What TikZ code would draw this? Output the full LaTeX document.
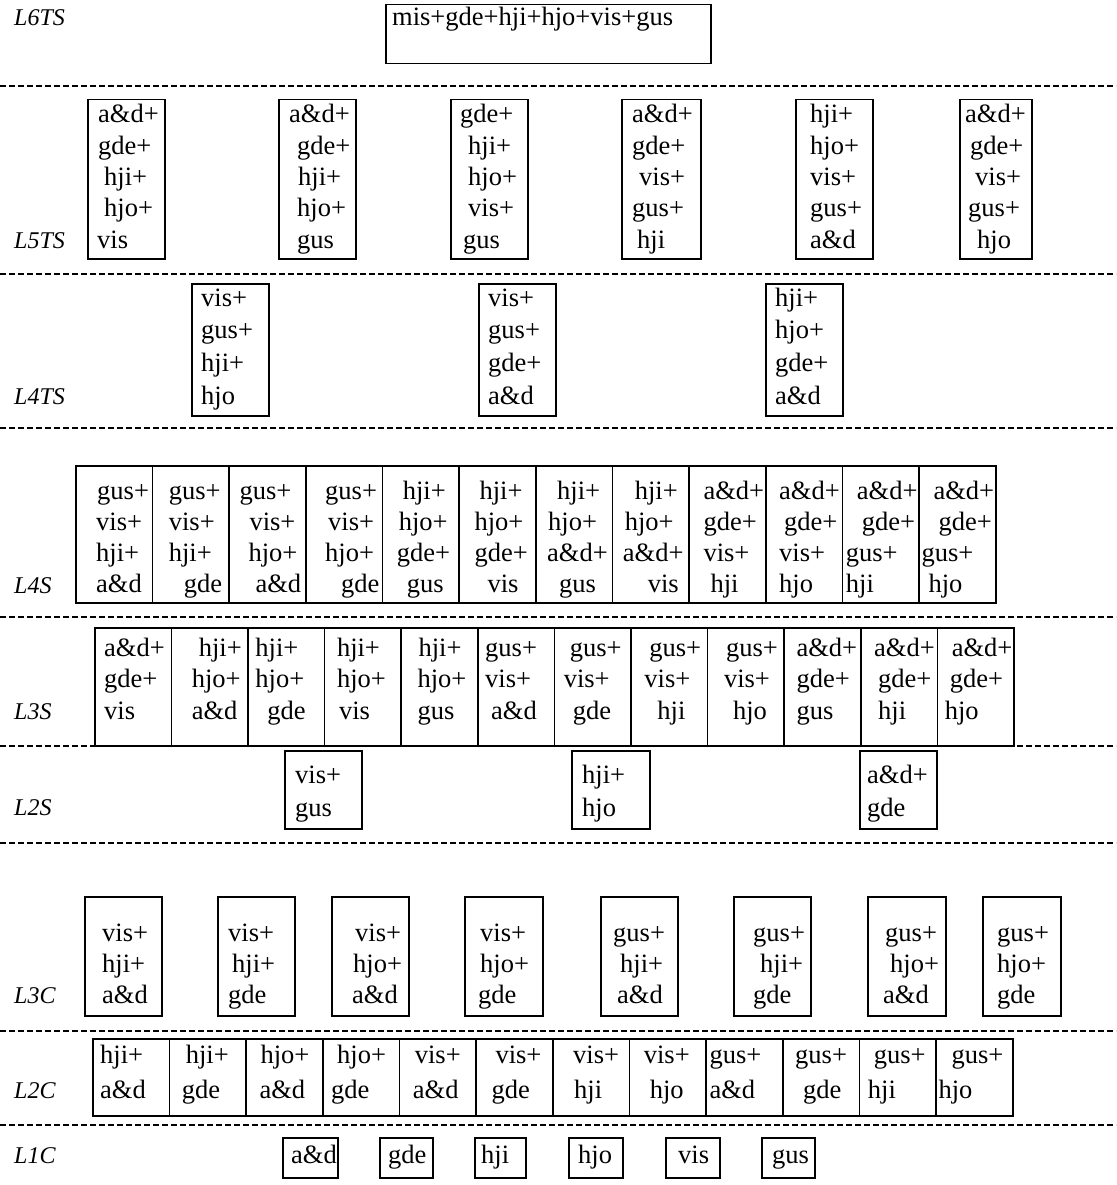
\documentclass[tikz,border=0pt]{standalone}
\usepackage{fontspec}
\setmainfont{Liberation Serif}
\tikzset{
  boxst/.style={draw, line width=1.5pt, inner sep=0pt},
  txt/.style={font=\fontsize{26.5}{30}\selectfont, anchor=west, inner sep=0pt, text height=18.5pt, text depth=6.5pt},
  lab/.style={font=\itshape\fontsize{24}{28}\selectfont, anchor=west, inner sep=0pt, text height=17pt, text depth=5pt},
  sep/.style={line width=1.3pt, dash pattern=on 6pt off 3pt}
}
% #1 name, #2 left x, #3 top y, #4 width, #5 height, #6 first line y, #7 line step, #8 offset/text list
\newcommand\tbox[8]{%
  \node[boxst, minimum width=#4pt, minimum height=#5pt, anchor=north west] (#1) at (#2,#3) {};
  \foreach \o/\t [count=\i] in {#8} {\node[txt] (#1-\i) at ({#2+\o},{#6+(\i-1)*#7}) {\t};}
}
\begin{document}
\begin{tikzpicture}[x=1pt, y=-1pt]
\useasboundingbox[fill=white] (0,0) rectangle (1116,1185);

% separators
\foreach \yy [count=\k] in {86,274,428,617,746,843,1031,1125} {
  \coordinate (sl\k) at (0,\yy); \coordinate (sr\k) at (1116,\yy);
  \draw[sep] (sl\k) -- (sr\k);
}

% labels
\node[lab] (lab6ts) at (14,20) {L6TS};
\node[lab] (lab5ts) at (14,242) {L5TS};
\node[lab] (lab4ts) at (14,398) {L4TS};
\node[lab] (lab4s) at (14,587) {L4S};
\node[lab] (lab3s) at (14,713) {L3S};
\node[lab] (lab2s) at (14,809) {L2S};
\node[lab] (lab3c) at (14,997) {L3C};
\node[lab] (lab2c) at (14,1092) {L2C};
\node[lab] (lab1c) at (14,1157) {L1C};

% L6TS
\node[boxst, minimum width=325pt, minimum height=59pt, anchor=north west] (top) at (385,4) {};
\node[txt] (top-1) at (392,20) {mis+gde+hji+hjo+vis+gus};

% L5TS
\tbox{a1}{87}{99}{77}{159}{117}{31.3}{11/a\&d+,11/gde+,17/hji+,17/hjo+,10/vis}
\tbox{a2}{278}{99}{77}{159}{117}{31.3}{11/a\&d+,19/gde+,20/hji+,19/hjo+,19/gus}
\tbox{a3}{450}{99}{77}{159}{117}{31.3}{10/gde+,18/hji+,18/hjo+,18/vis+,13/gus}
\tbox{a4}{621}{99}{79}{159}{117}{31.3}{11/a\&d+,11/gde+,18/vis+,11/gus+,16/hji}
\tbox{a5}{795}{99}{77}{159}{117}{31.3}{15/hji+,15/hjo+,15/vis+,15/gus+,15/a\&d}
\tbox{a6}{959}{99}{72}{159}{117}{31.3}{6/a\&d+,11/gde+,16/vis+,9/gus+,18/hjo}

% L4TS
\tbox{b1}{191}{283}{77}{132}{300}{32.7}{10/vis+,10/gus+,10/hji+,10/hjo}
\tbox{b2}{478}{283}{77}{132}{300}{32.7}{10/vis+,10/gus+,10/gde+,10/a\&d}
\tbox{b3}{765}{283}{77}{132}{300}{32.7}{10/hji+,10/hjo+,10/gde+,10/a\&d}

% L4S
\tbox{c1}{75}{465}{76.67}{137}{493}{31.3}{22/gus+,21/vis+,21/hji+,21/a\&d}
\tbox{c2}{151.67}{465}{76.67}{137}{493}{31.3}{17/gus+,17/vis+,17/hji+,32/gde}
\tbox{c3}{228.33}{465}{76.67}{137}{493}{31.3}{11/gus+,21/vis+,20/hjo+,27/a\&d}
\tbox{c4}{305}{465}{76.67}{137}{493}{31.3}{20/gus+,23/vis+,20/hjo+,36/gde}
\tbox{c5}{381.67}{465}{76.67}{137}{493}{31.3}{21/hji+,17/hjo+,15/gde+,25/gus}
\tbox{c6}{458.33}{465}{76.67}{137}{493}{31.3}{21/hji+,16/hjo+,16/gde+,29/vis}
\tbox{c7}{535}{465}{76.67}{137}{493}{31.3}{22/hji+,13/hjo+,12/a\&d+,24/gus}
\tbox{c8}{611.67}{465}{76.67}{137}{493}{31.3}{23/hji+,13/hjo+,11/a\&d+,36/vis}
\tbox{c9}{688.33}{465}{76.67}{137}{493}{31.3}{15/a\&d+,15/gde+,15/vis+,22/hji}
\tbox{c10}{765}{465}{76.67}{137}{493}{31.3}{14/a\&d+,19/gde+,14/vis+,14/hjo}
\tbox{c11}{841.67}{465}{76.67}{137}{493}{31.3}{15/a\&d+,20/gde+,4/gus+,4/hji}
\tbox{c12}{918.33}{465}{76.67}{137}{493}{31.3}{15/a\&d+,20/gde+,3/gus+,10/hjo}

% L3S
\tbox{d1}{94}{627}{76.6}{118}{650}{31.5}{10/a\&d+,10/gde+,10/vis}
\tbox{d2}{170.6}{627}{76.6}{118}{650}{31.5}{28/hji+,21/hjo+,21/a\&d}
\tbox{d3}{247.2}{627}{76.6}{118}{650}{31.5}{8/hji+,8/hjo+,20/gde}
\tbox{d4}{323.8}{627}{76.6}{118}{650}{31.5}{13/hji+,13/hjo+,15/vis}
\tbox{d5}{400.4}{627}{76.6}{118}{650}{31.5}{18/hji+,17/hjo+,17/gus}
\tbox{d6}{477}{627}{76.6}{118}{650}{31.5}{8/gus+,8/vis+,14/a\&d}
\tbox{d7}{553.6}{627}{76.6}{118}{650}{31.5}{16/gus+,10/vis+,19/gde}
\tbox{d8}{630.2}{627}{76.6}{118}{650}{31.5}{19/gus+,14/vis+,27/hji}
\tbox{d9}{706.8}{627}{76.6}{118}{650}{31.5}{19/gus+,17/vis+,26/hjo}
\tbox{d10}{783.4}{627}{76.6}{118}{650}{31.5}{13/a\&d+,13/gde+,13/gus}
\tbox{d11}{860}{627}{76.6}{118}{650}{31.5}{14/a\&d+,18/gde+,18/hji}
\tbox{d12}{936.6}{627}{76.6}{118}{650}{31.5}{15/a\&d+,13/gde+,8/hjo}

% L2S
\tbox{e1}{284}{750}{77}{78}{777}{33}{11/vis+,11/gus}
\tbox{e2}{571}{750}{78}{78}{777}{33}{11/hji+,11/hjo}
\tbox{e3}{859}{750}{77}{78}{777}{33}{8/a\&d+,8/gde}

% L3C
\tbox{f1}{84}{896}{77}{119}{935}{31}{18/vis+,18/hji+,18/a\&d}
\tbox{f2}{217}{896}{77}{119}{935}{31}{11/vis+,15/hji+,11/gde}
\tbox{f3}{331}{896}{77}{119}{935}{31}{24/vis+,22/hjo+,21/a\&d}
\tbox{f4}{464}{896}{78}{119}{935}{31}{16/vis+,16/hjo+,14/gde}
\tbox{f5}{600}{896}{77}{119}{935}{31}{13/gus+,20/hji+,17/a\&d}
\tbox{f6}{733}{896}{77}{119}{935}{31}{20/gus+,27/hji+,20/gde}
\tbox{f7}{867}{896}{78}{119}{935}{31}{18/gus+,23/hjo+,16/a\&d}
\tbox{f8}{982}{896}{78}{119}{935}{31}{15/gus+,15/hjo+,15/gde}

% L2C
\tbox{g1}{92}{1038}{76.67}{77}{1057}{35}{8/hji+,8/a\&d}
\tbox{g2}{168.67}{1038}{76.67}{77}{1057}{35}{17/hji+,13/gde}
\tbox{g3}{245.33}{1038}{76.67}{77}{1057}{35}{15/hjo+,14/a\&d}
\tbox{g4}{322}{1038}{76.67}{77}{1057}{35}{15/hjo+,9/gde}
\tbox{g5}{398.67}{1038}{76.67}{77}{1057}{35}{16/vis+,14/a\&d}
\tbox{g6}{475.33}{1038}{76.67}{77}{1057}{35}{20/vis+,16/gde}
\tbox{g7}{552}{1038}{76.67}{77}{1057}{35}{21/vis+,22/hji}
\tbox{g8}{628.67}{1038}{76.67}{77}{1057}{35}{15/vis+,21/hjo}
\tbox{g9}{705.33}{1038}{76.67}{77}{1057}{35}{4/gus+,4/a\&d}
\tbox{g10}{782}{1038}{76.67}{77}{1057}{35}{13/gus+,21/gde}
\tbox{g11}{858.67}{1038}{76.67}{77}{1057}{35}{15/gus+,9/hji}
\tbox{g12}{935.33}{1038}{76.67}{77}{1057}{35}{16/gus+,3/hjo}

% L1C
\tbox{h1}{282}{1137}{55}{40}{1157}{0}{9/a\&d}
\tbox{h2}{379}{1137}{53}{40}{1157}{0}{9/gde}
\tbox{h3}{474}{1137}{51}{40}{1157}{0}{7/hji}
\tbox{h4}{568}{1137}{54}{40}{1157}{0}{10/hjo}
\tbox{h5}{665}{1137}{54}{40}{1157}{0}{13/vis}
\tbox{h6}{761}{1137}{53}{40}{1157}{0}{11/gus}
\end{tikzpicture}
\end{document}
